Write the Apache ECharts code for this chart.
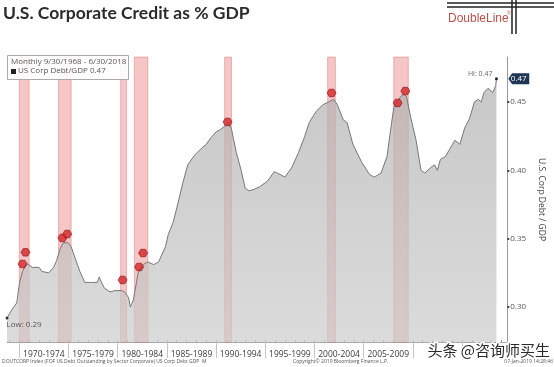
<!DOCTYPE html>
<html><head><meta charset="utf-8">
<script src="https://cdn.jsdelivr.net/npm/echarts@6/dist/echarts.min.js"></script>
<style>html,body{margin:0;padding:0;background:#fff}#c{width:554px;height:367px}</style>
</head><body><div id="c"></div>
<script>
// ---- data ----
const years = [1968.75,1969.24,1969.74,1970.03,1970.33,1970.73,1970.82,1971.32,1972.01,1972.31,
1972.99,1973.49,1973.79,1974.18,1974.48,1974.97,1975.27,1975.76,1976.16,1976.65,
1977.24,1977.94,1978.13,1978.23,1978.63,1979.22,1979.71,1980.40,1980.70,1981.10,
1981.29,1981.59,1982.08,1982.58,1983.07,1983.66,1984.16,1984.85,1985.14,1985.64,
1986.13,1986.63,1987.12,1987.81,1988.50,1989.00,1989.49,1989.98,1990.48,1990.97,
1991.27,1991.57,1992.06,1992.55,1992.95,1993.34,1993.84,1994.43,1995.22,1995.91,
1996.50,1997.00,1997.69,1998.38,1998.97,1999.47,2000.16,2000.85,2001.44,2001.94,
2002.33,2002.92,2003.32,2003.91,2004.80,2005.59,2006.08,2006.77,2007.37,2008.06,
2008.55,2009.05,2009.35,2009.84,2010.33,2010.83,2011.22,2011.81,2012.21,2012.50,
2012.80,2013.30,2013.79,2014.28,2014.78,2015.27,2015.77,2016.26,2016.65,2016.95,
2017.24,2017.64,2018.13,2018.42,2018.50];
const ratio = [0.292,0.298,0.303,0.318,0.326,0.332,0.331,0.329,0.329,0.326,
0.325,0.329,0.334,0.343,0.347,0.347,0.344,0.334,0.326,0.318,
0.318,0.318,0.322,0.320,0.314,0.311,0.312,0.312,0.311,0.307,
0.300,0.305,0.325,0.331,0.333,0.331,0.333,0.344,0.353,0.362,
0.376,0.391,0.404,0.411,0.416,0.419,0.424,0.428,0.430,0.433,
0.435,0.430,0.413,0.400,0.387,0.385,0.386,0.388,0.392,0.399,
0.397,0.395,0.402,0.413,0.424,0.435,0.443,0.448,0.450,0.452,
0.448,0.437,0.435,0.419,0.406,0.397,0.395,0.398,0.410,0.446,
0.452,0.456,0.454,0.437,0.422,0.400,0.398,0.402,0.404,0.400,
0.408,0.410,0.416,0.422,0.419,0.431,0.438,0.450,0.452,0.450,
0.457,0.460,0.457,0.462,0.467];

const bandStart = [1970.0, 1973.98, 1980.3, 1981.69, 1990.87, 2001.34, 2008.06];
const bandEnd   = [1971.0, 1975.27, 1980.9, 1983.07, 1991.57, 2002.13, 2009.54];

const markerYears  = [1970.63, 1970.33, 1974.38, 1974.87, 1980.5, 1982.18, 1982.58, 1991.17, 2001.74, 2008.45, 2009.24];
const markerValues = [0.340, 0.3315, 0.3505, 0.3534, 0.3198, 0.3293, 0.3395, 0.4354, 0.4566, 0.4493, 0.4580];

const xTicks = [1970, 1975, 1980, 1985, 1990, 1995, 2000, 2005, 2010, 2015];
const xLabelCenters = [1972.5, 1977.5, 1982.5, 1987.5, 1992.5, 1997.5, 2002.5, 2007.5];
const yTicks = [0.30, 0.35, 0.40, 0.45];
const yearTicks = [];
for (let y = 1969; y <= 2019; y++) yearTicks.push(y);

const lastIdx = years.length - 1;
const XMIN = 1968.75, XMAX = 2019.6, YMIN = 0.2744, YMAX = 0.4829;

const chart = echarts.init(document.getElementById('c'), null, {renderer: 'canvas'});
const F = "'Open Sans', 'Noto Sans', sans-serif";
const seriesData = years.map((y, i) => [y, ratio[i]]);

chart.setOption({
  animation: false,
  backgroundColor: '#fff',
  textStyle: {fontFamily: F},
  title: {
    text: 'U.S. Corporate Credit as % GDP',
    left: 3, top: 4, padding: 0,
    textStyle: {fontSize: 17.5, fontWeight: 'bold', color: '#2b2b2b', fontFamily: "Lato, 'Open Sans', sans-serif"}
  },
  grid: {left: 7, right: 32, top: 57, bottom: 25, containLabel: false},
  xAxis: [{
    type: 'value', min: XMIN, max: XMAX,
    splitLine: {show: false},
    axisLine: {show: true, lineStyle: {color: '#a8a8a8', width: 1}},
    axisTick: {show: true, customValues: xTicks, length: 16, inside: false, lineStyle: {color: '#c4c4c4'}},
    axisLabel: {
      show: true, customValues: xLabelCenters, margin: 8,
      fontSize: 8.5, color: '#3a3a3a', fontFamily: F,
      formatter: v => (v - 2.5) + '-' + (v + 1.5)
    }
  }, {
    type: 'value', min: XMIN, max: XMAX, position: 'bottom',
    splitLine: {show: false}, axisLine: {show: false},
    axisTick: {show: true, customValues: yearTicks, length: 2, inside: true, lineStyle: {color: '#999'}},
    axisLabel: {show: false}
  }],
  yAxis: {
    type: 'value', position: 'right', min: YMIN, max: YMAX,
    splitLine: {show: false},
    axisLine: {show: true, lineStyle: {color: '#9a9a9a', width: 1}},
    axisTick: {show: true, customValues: yTicks, length: 2, lineStyle: {color: '#444', width: 2}},
    axisLabel: {customValues: yTicks, margin: 3, fontSize: 8, color: '#555', fontFamily: F,
      formatter: v => v.toFixed(2)},
    name: 'U.S. Corp Debt / GDP', nameLocation: 'middle', nameRotate: -90, nameGap: 25,
    nameTextStyle: {fontSize: 8.5, color: '#444', fontFamily: F}
  },
  series: [{
    type: 'line',
    data: seriesData,
    showSymbol: false, symbol: 'none',
    lineStyle: {color: '#777', width: 1},
    areaStyle: {
      origin: 'start',
      color: new echarts.graphic.LinearGradient(0, 0, 0, 1, [
        {offset: 0, color: '#b0b0b0'}, {offset: 1, color: '#cccccc'}
      ])
    },
    markPoint: {
      silent: true,
      data: [
        {coord: [years[0], ratio[0]], symbol: 'circle', symbolSize: 3,
          itemStyle: {color: '#333'},
          label: {show: true, formatter: 'Low: 0.29', position: [1, 4], fontSize: 8, color: '#555', fontFamily: F}},
        {coord: [years[lastIdx], ratio[lastIdx]], symbol: 'circle', symbolSize: 3,
          itemStyle: {color: '#222'},
          label: {show: true, formatter: 'Hi: 0.47', position: [-27, -7], fontSize: 7, color: '#666', fontFamily: F}},
        {coord: [XMAX, ratio[lastIdx]], symbol: 'path://M0,5 L4,0 L22,0 L22,10 L4,10 Z',
          symbolSize: [21, 11], symbolOffset: [11.5, 0], symbolKeepAspect: false,
          itemStyle: {color: '#1f3654'},
          label: {show: true, formatter: '0.47', position: 'inside', fontSize: 8, color: '#fff', fontFamily: F}}
      ]
    },
    z: 2
  }, {
    // recession bands drawn over the area
    type: 'line',
    data: seriesData,
    showSymbol: false, symbol: 'none',
    lineStyle: {width: 0, opacity: 0},
    silent: true,
    markArea: {
      silent: true,
      itemStyle: {color: 'rgba(226,62,62,0.3)', borderColor: 'rgba(215,100,100,0.4)', borderWidth: 1},
      data: bandStart.map((s, i) => [{xAxis: s}, {xAxis: bandEnd[i]}])
    },
    z: 3
  }, {
    type: 'scatter',
    data: markerYears.map((y, i) => [y, markerValues[i]]),
    symbol: 'path://M3,0 L9,0 L12,4.5 L9,9 L3,9 L0,4.5 Z',
    symbolSize: [9, 7.5],
    itemStyle: {color: '#d4262c', borderColor: '#8a1414', borderWidth: 0.8},
    z: 5, silent: true
  }],
  graphic: [
    // legend box
    {type: 'rect', left: 7, top: 55, shape: {width: 121, height: 24},
      style: {fill: 'rgba(255,255,255,0.9)', stroke: '#aaa', lineWidth: 1}, z: 100},
    {type: 'text', left: 11, top: 58, style: {text: 'Monthly 9/30/1968 - 6/30/2018', fontSize: 8, fill: '#555', fontFamily: F}, z: 101},
    {type: 'rect', left: 11, top: 69, shape: {width: 5, height: 5}, style: {fill: '#222'}, z: 101},
    {type: 'text', left: 18, top: 67, style: {text: 'US Corp Debt/GDP 0.47', fontSize: 8, fill: '#555', fontFamily: F}, z: 101},
    // DoubleLine logo
    {type: 'text', left: 448, top: 13, style: {text: 'DoubleLine', fontSize: 12, fill: '#b8504c', fontFamily: "'Liberation Sans', Arial, sans-serif"}, z: 100},
    {type: 'text', left: 507, top: 11, style: {text: '®', fontSize: 5, fill: '#b8504c'}, z: 100},
    {type: 'line', shape: {x1: 447, y1: 3, x2: 554, y2: 3}, style: {stroke: '#222', lineWidth: 1.5}, z: 100},
    {type: 'line', shape: {x1: 447, y1: 7, x2: 554, y2: 7}, style: {stroke: '#222', lineWidth: 1.5}, z: 100},
    {type: 'line', shape: {x1: 512, y1: 0, x2: 512, y2: 34}, style: {stroke: '#222', lineWidth: 1.5}, z: 100},
    {type: 'line', shape: {x1: 516, y1: 0, x2: 516, y2: 34}, style: {stroke: '#222', lineWidth: 1.5}, z: 100},
    // footer
    {type: 'text', left: 2, top: 359, style: {text: 'DOUTCORP Index (FOF US Debt Outstanding by Sector Corporate) US Corp Debt GDP  M', fontSize: 5, fill: '#555', fontFamily: F}, z: 100},
    {type: 'text', left: 293, top: 359, style: {text: 'Copyright\u00a9 2019 Bloomberg Finance L.P.', fontSize: 5, fill: '#555', fontFamily: F}, z: 100},
    {type: 'text', right: 1, top: 359, style: {text: '07-Jan-2019 14:28:46', fontSize: 5, fill: '#555', fontFamily: F}, z: 100},
    // watermark
    {type: 'text', left: 426, top: 341, style: {text: '头条 @咨询师买生', fontSize: 15, fill: '#2a2a2a',
      stroke: '#fff', lineWidth: 3, fontFamily: "'Noto Sans CJK SC', sans-serif"}, z: 110}
  ]
});
</script>
</body></html>
